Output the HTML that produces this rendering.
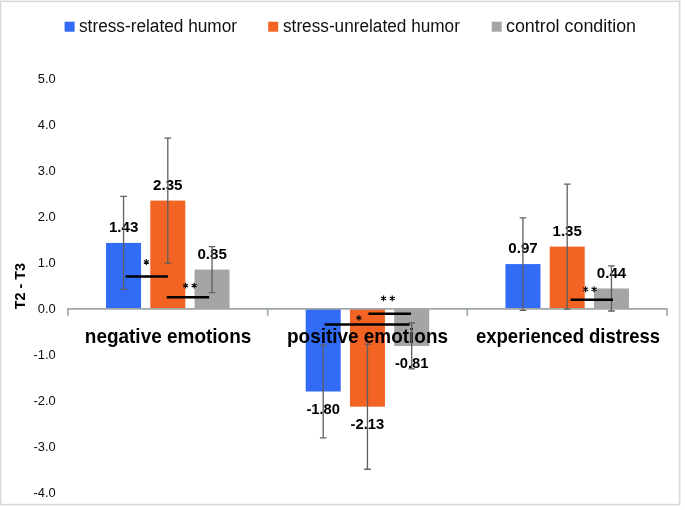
<!DOCTYPE html>
<html><head><meta charset="utf-8"><title>chart</title>
<style>html,body{margin:0;padding:0;background:#fff}svg{will-change:transform}body{width:685px;height:510px;overflow:hidden;font-family:"Liberation Sans",sans-serif}</style>
</head><body>
<svg width="685" height="510" viewBox="0 0 685 510" style="display:block;font-family:'Liberation Sans',sans-serif">
<rect x="0" y="0" width="685" height="510" fill="#fff"/>
<rect x="0.6" y="1.4" width="679" height="503.2" fill="none" stroke="#D9D9D9" stroke-width="1.6"/>
<rect x="64.6" y="21.7" width="10" height="10" fill="#316BF6"/>
<text x="79.0" y="32.2" font-size="17.6" fill="#111" textLength="158.0" lengthAdjust="spacingAndGlyphs">stress-related humor</text>
<rect x="268.2" y="21.7" width="10" height="10" fill="#F26324"/>
<text x="283.0" y="32.2" font-size="17.6" fill="#111" textLength="176.9" lengthAdjust="spacingAndGlyphs">stress-unrelated humor</text>
<rect x="491.7" y="21.7" width="10" height="10" fill="#A5A5A5"/>
<text x="506.0" y="32.2" font-size="17.6" fill="#111" textLength="130.0" lengthAdjust="spacingAndGlyphs">control condition</text>
<text x="37.7" y="82.6" font-size="12" fill="#0d0d0d" textLength="18.0" lengthAdjust="spacingAndGlyphs">5.0</text>
<text x="37.7" y="128.6" font-size="12" fill="#0d0d0d" textLength="18.0" lengthAdjust="spacingAndGlyphs">4.0</text>
<text x="37.7" y="174.6" font-size="12" fill="#0d0d0d" textLength="18.0" lengthAdjust="spacingAndGlyphs">3.0</text>
<text x="37.7" y="220.6" font-size="12" fill="#0d0d0d" textLength="18.0" lengthAdjust="spacingAndGlyphs">2.0</text>
<text x="37.7" y="266.6" font-size="12" fill="#0d0d0d" textLength="18.0" lengthAdjust="spacingAndGlyphs">1.0</text>
<text x="37.7" y="312.6" font-size="12" fill="#0d0d0d" textLength="18.0" lengthAdjust="spacingAndGlyphs">0.0</text>
<text x="33.5" y="358.6" font-size="12" fill="#0d0d0d" textLength="22.2" lengthAdjust="spacingAndGlyphs">-1.0</text>
<text x="33.5" y="404.6" font-size="12" fill="#0d0d0d" textLength="22.2" lengthAdjust="spacingAndGlyphs">-2.0</text>
<text x="33.5" y="450.6" font-size="12" fill="#0d0d0d" textLength="22.2" lengthAdjust="spacingAndGlyphs">-3.0</text>
<text x="33.5" y="496.6" font-size="12" fill="#0d0d0d" textLength="22.2" lengthAdjust="spacingAndGlyphs">-4.0</text>
<text transform="translate(24.5,309.3) rotate(-90)" font-size="15.2" font-weight="bold" fill="#000" textLength="46.2" lengthAdjust="spacingAndGlyphs">T2 - T3</text>
<rect x="106.05" y="242.92" width="35.0" height="65.78" fill="#316BF6"/>
<rect x="150.30" y="200.60" width="35.0" height="108.10" fill="#F26324"/>
<rect x="194.55" y="269.60" width="35.0" height="39.10" fill="#A5A5A5"/>
<rect x="305.70" y="308.70" width="35.0" height="82.80" fill="#316BF6"/>
<rect x="349.95" y="308.70" width="35.0" height="97.98" fill="#F26324"/>
<rect x="394.20" y="308.70" width="35.0" height="37.26" fill="#A5A5A5"/>
<rect x="505.45" y="264.08" width="35.0" height="44.62" fill="#316BF6"/>
<rect x="549.70" y="246.60" width="35.0" height="62.10" fill="#F26324"/>
<rect x="593.95" y="288.46" width="35.0" height="20.24" fill="#A5A5A5"/>
<path d="M67.85 315.84999999999997V308.84999999999997H667.0V315.84999999999997M267.75 308.84999999999997v7.0M467.25 308.84999999999997v7.0" fill="none" stroke="#9FA8AA" stroke-width="1.7"/>
<text x="84.8" y="342.7" font-size="20.5" font-weight="bold" fill="#000" textLength="166.5" lengthAdjust="spacingAndGlyphs">negative emotions</text>
<text x="287.0" y="342.7" font-size="20.5" font-weight="bold" fill="#000" textLength="161.0" lengthAdjust="spacingAndGlyphs">positive emotions</text>
<text x="476.0" y="342.7" font-size="20.5" font-weight="bold" fill="#000" textLength="184.0" lengthAdjust="spacingAndGlyphs">experienced distress</text>
<text x="108.9" y="231.9" font-size="14.4" font-weight="bold" fill="#000" textLength="29.4" lengthAdjust="spacingAndGlyphs">1.43</text>
<text x="153.1" y="189.6" font-size="14.4" font-weight="bold" fill="#000" textLength="29.4" lengthAdjust="spacingAndGlyphs">2.35</text>
<text x="197.4" y="258.6" font-size="14.4" font-weight="bold" fill="#000" textLength="29.4" lengthAdjust="spacingAndGlyphs">0.85</text>
<text x="306.4" y="413.8" font-size="14.4" font-weight="bold" fill="#000" textLength="33.6" lengthAdjust="spacingAndGlyphs">-1.80</text>
<text x="350.6" y="429.0" font-size="14.4" font-weight="bold" fill="#000" textLength="33.6" lengthAdjust="spacingAndGlyphs">-2.13</text>
<text x="394.9" y="368.3" font-size="14.4" font-weight="bold" fill="#000" textLength="33.6" lengthAdjust="spacingAndGlyphs">-0.81</text>
<text x="508.3" y="253.1" font-size="14.4" font-weight="bold" fill="#000" textLength="29.4" lengthAdjust="spacingAndGlyphs">0.97</text>
<text x="552.5" y="235.6" font-size="14.4" font-weight="bold" fill="#000" textLength="29.4" lengthAdjust="spacingAndGlyphs">1.35</text>
<text x="596.8" y="277.5" font-size="14.4" font-weight="bold" fill="#000" textLength="29.4" lengthAdjust="spacingAndGlyphs">0.44</text>
<path d="M120.25 196.46h6.6M120.25 289.38h6.6M123.55 196.46V289.38" fill="none" stroke="#5F5F5F" stroke-width="1.3"/>
<path d="M164.50 138.04h6.6M164.50 263.16h6.6M167.80 138.04V263.16" fill="none" stroke="#5F5F5F" stroke-width="1.3"/>
<path d="M208.75 246.60h6.6M208.75 292.60h6.6M212.05 246.60V292.60" fill="none" stroke="#5F5F5F" stroke-width="1.3"/>
<path d="M319.90 345.04h6.6M319.90 437.96h6.6M323.20 345.04V437.96" fill="none" stroke="#5F5F5F" stroke-width="1.3"/>
<path d="M364.15 344.12h6.6M364.15 469.24h6.6M367.45 344.12V469.24" fill="none" stroke="#5F5F5F" stroke-width="1.3"/>
<path d="M408.40 322.96h6.6M408.40 368.96h6.6M411.70 322.96V368.96" fill="none" stroke="#5F5F5F" stroke-width="1.3"/>
<path d="M519.65 217.85h6.6M519.65 310.31h6.6M522.95 217.85V310.31" fill="none" stroke="#5F5F5F" stroke-width="1.3"/>
<path d="M563.90 184.04h6.6M563.90 309.16h6.6M567.20 184.04V309.16" fill="none" stroke="#5F5F5F" stroke-width="1.3"/>
<path d="M608.15 265.92h6.6M608.15 311.00h6.6M611.45 265.92V311.00" fill="none" stroke="#5F5F5F" stroke-width="1.3"/>
<path d="M125.6 276.5H167.9" stroke="#000" stroke-width="2.5" fill="none"/>
<path d="M166.8 297.2H209.2" stroke="#000" stroke-width="2.5" fill="none"/>
<path d="M324.6 324.4H409.6" stroke="#000" stroke-width="2.5" fill="none"/>
<path d="M368.4 313.7H411.0" stroke="#000" stroke-width="2.5" fill="none"/>
<path d="M570.5 299.85H613.0" stroke="#000" stroke-width="2.5" fill="none"/>
<path d="M146.35 259.10L146.35 264.90M143.84 260.55L148.86 263.45M148.86 260.55L143.84 263.45" stroke="#0a0a0a" stroke-width="1.15" fill="none"/><circle cx="146.35" cy="262.0" r="1.05" fill="#0a0a0a"/>
<path d="M185.60 282.70L185.60 288.50M183.09 284.15L188.11 287.05M188.11 284.15L183.09 287.05" stroke="#0a0a0a" stroke-width="1.15" fill="none"/><circle cx="185.6" cy="285.6" r="1.05" fill="#0a0a0a"/>
<path d="M194.20 282.70L194.20 288.50M191.69 284.15L196.71 287.05M196.71 284.15L191.69 287.05" stroke="#0a0a0a" stroke-width="1.15" fill="none"/><circle cx="194.2" cy="285.6" r="1.05" fill="#0a0a0a"/>
<path d="M358.90 315.00L358.90 320.80M356.39 316.45L361.41 319.35M361.41 316.45L356.39 319.35" stroke="#0a0a0a" stroke-width="1.15" fill="none"/><circle cx="358.9" cy="317.9" r="1.05" fill="#0a0a0a"/>
<path d="M383.50 295.45L383.50 301.25M380.99 296.90L386.01 299.80M386.01 296.90L380.99 299.80" stroke="#0a0a0a" stroke-width="1.15" fill="none"/><circle cx="383.5" cy="298.35" r="1.05" fill="#0a0a0a"/>
<path d="M392.25 295.45L392.25 301.25M389.74 296.90L394.76 299.80M394.76 296.90L389.74 299.80" stroke="#0a0a0a" stroke-width="1.15" fill="none"/><circle cx="392.25" cy="298.35" r="1.05" fill="#0a0a0a"/>
<path d="M585.60 286.35L585.60 292.15M583.09 287.80L588.11 290.70M588.11 287.80L583.09 290.70" stroke="#0a0a0a" stroke-width="1.15" fill="none"/><circle cx="585.6" cy="289.25" r="1.05" fill="#0a0a0a"/>
<path d="M594.10 286.35L594.10 292.15M591.59 287.80L596.61 290.70M596.61 287.80L591.59 290.70" stroke="#0a0a0a" stroke-width="1.15" fill="none"/><circle cx="594.1" cy="289.25" r="1.05" fill="#0a0a0a"/>
</svg>
</body></html>
